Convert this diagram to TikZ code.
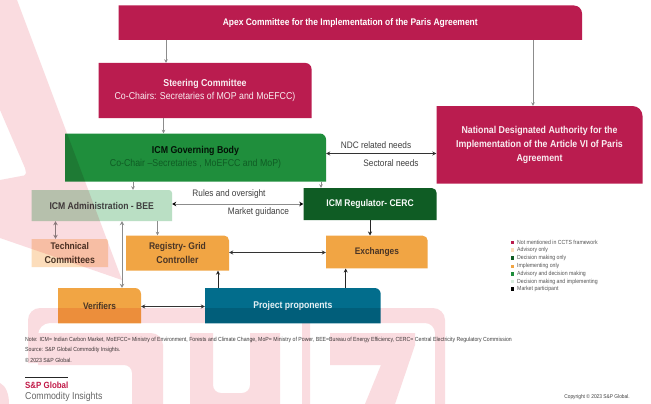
\documentclass[tikz,border=0pt]{standalone}
\usepackage{fontspec}
\setmainfont{Liberation Sans}
\newfontfamily\narrowfont[FakeStretch=0.88]{Liberation Sans}
\usetikzlibrary{arrows.meta}
\definecolor{crim}{HTML}{BA1C4F}
\definecolor{midgreen}{HTML}{1F8E3C}
\definecolor{darkgreen}{HTML}{0F5C24}
\definecolor{palegreen}{HTML}{BADFC4}
\definecolor{peach}{HTML}{FCDDBB}
\definecolor{orangeb}{HTML}{F1A544}
\definecolor{tealb}{HTML}{026D8C}
\definecolor{wm}{HTML}{FADCE0}
\definecolor{linegrey}{HTML}{8C8C8C}
\definecolor{brownt}{HTML}{4A3526}
\definecolor{legendt}{HTML}{555555}
\tikzset{
  boxlabel/.style={inner sep=0pt,align=center,font=\narrowfont\fontsize{10}{13.7}\selectfont},
  lbl/.style={inner sep=0pt,text=black!75,font=\narrowfont\fontsize{9.4}{11}\selectfont},
  legendlbl/.style={inner sep=0pt,anchor=west,text=legendt,font=\narrowfont\fontsize{5.9}{7}\selectfont},
  notelbl/.style={inner sep=0pt,anchor=west,text=black!75,font=\narrowfont\fontsize{5.9}{7}\selectfont},
  legendsq/.style={inner sep=0pt,minimum size=3.4pt},
  greyline/.style={draw=linegrey,line width=0.8pt,-{Stealth[length=3.5pt,width=3.5pt]}},
  greyboth/.style={draw=linegrey,line width=0.9pt,{Stealth[length=4pt,width=4.5pt]}-{Stealth[length=4pt,width=4.5pt]}},
  blackboth/.style={draw=black!80,line width=0.7pt,{Stealth[length=4pt,width=4pt]}-{Stealth[length=4pt,width=4pt]}},
  blackline/.style={draw=black!85,line width=0.9pt,-{Stealth[length=4pt,width=4pt]}},
  mixedboth/.style={draw=linegrey,line width=1pt,{Stealth[length=4pt,width=4.5pt,black]}-{Stealth[length=4pt,width=4.5pt,black]}},
}
% name, x0, y0, x1, y1, radius, colour, node options, text
\newcommand{\tbox}[9]{%
  \fill[#7] (#2,#5) -- (#2,#3) [rounded corners=#6pt] -- (#4,#3) [sharp corners] -- (#4,#5) -- cycle;
  \pgfmathsetmacro{\bw}{#4-#2}\pgfmathsetmacro{\bh}{#5-#3}
  \pgfmathsetmacro{\bx}{(#2+#4)/2}\pgfmathsetmacro{\by}{(#3+#5)/2}
  \node[boxlabel,minimum width=\bw pt,minimum height=\bh pt,#8] (#1) at (\bx,\by) {#9};
}
\begin{document}
\begin{tikzpicture}[x=1pt,y=-1pt]
\useasboundingbox (0,0) rectangle (651,404);
\fill[white] (0,0) rectangle (651,404);

\tbox{apex}{118.5}{5.5}{582}{40}{8}{crim}{text=white}{\bfseries\fontsize{9.6}{11}\selectfont Apex Committee for the Implementation of the Paris Agreement}
\tbox{steer}{98.5}{63}{311.5}{118}{6}{crim}{text=white!92!crim}{{\bfseries Steering Committee}\\Co-Chairs: Secretaries of MOP and MoEFCC)}
\tbox{gov}{65}{133.5}{326}{181.5}{6}{midgreen}{text=darkgreen}{{\bfseries\color{black!80!darkgreen} ICM Governing Body}\\Co-Chair –Secretaries , MoEFCC and MoP)}
\tbox{nda}{436.5}{106}{642.5}{183.5}{10}{crim}{text=white!92!crim}{\bfseries National Designated Authority for the\\\bfseries Implementation of the Article VI of Paris\\\bfseries Agreement}
\tbox{admin}{31.5}{190}{172}{221}{3}{palegreen}{text=black!75}{\bfseries\fontsize{9.8}{12}\selectfont ICM Administration - BEE}
\tbox{reg}{303.5}{188}{436.7}{220}{5}{darkgreen}{text=white!92!palegreen}{\bfseries\fontsize{9.7}{12}\selectfont ICM Regulator- CERC}
\tbox{tech}{31.5}{239}{108}{267}{2}{peach}{text=brownt}{\bfseries\fontsize{9.6}{14}\selectfont Technical\\\bfseries Committees}
\tbox{registry}{126}{235.5}{229}{270.5}{5}{orangeb}{text=brownt}{\bfseries\fontsize{9.7}{14}\selectfont Registry- Grid\\\bfseries Controller}
\tbox{exch}{326}{235.7}{427.7}{268.3}{5}{orangeb}{text=brownt}{\bfseries\fontsize{9.5}{12}\selectfont Exchanges}
\tbox{verif}{58}{288}{141}{323.3}{6}{orangeb}{text=brownt}{\bfseries\fontsize{9.5}{12}\selectfont Verifiers}
\tbox{proj}{205}{288}{380.7}{323.3}{6}{tealb}{text=white!90!tealb}{\bfseries\fontsize{9.8}{12}\selectfont Project proponents}

% connectors
\draw[greyline] (166,0 |- apex.south) -- (166,0 |- steer.north);
\draw[greyline] (163.5,0 |- steer.south) -- (163.5,0 |- gov.north);
\draw[greyline] (533,0 |- apex.south) -- (533,0 |- nda.north);
\draw[greyline] (133,0 |- gov.south) -- (133,0 |- admin.north);
\draw[greyline] (321,0 |- gov.south) -- (321,0 |- reg.north);
\draw[blackboth] (gov.east |- 0,153.5) -- (nda.west |- 0,153.5);
\draw[mixedboth] (admin.east |- 0,204) -- (reg.west |- 0,204);
\draw[greyboth] (55.5,0 |- admin.south) -- (55.5,0 |- tech.north);
\draw[greyboth] (122,0 |- admin.south) -- (122,0 |- verif.north);
\draw[greyline] (157.5,0 |- admin.south) -- (157.5,0 |- registry.north);
\draw[blackboth] (registry.east |- 0,252.5) -- (exch.west |- 0,252.5);
\draw[blackline] (218,0 |- proj.north) -- (218,0 |- registry.south);
\draw[blackline] (345.7,0 |- proj.north) -- (345.7,0 |- exch.south);
\draw[blackline] (370,0 |- reg.south) -- (370,0 |- exch.north);
\draw[blackboth] (verif.east |- 0,306.5) -- (proj.west |- 0,306.5);

% connector labels
\node[lbl] (l1) at (229,194) {Rules and oversight};
\node[lbl] (l2) at (258.5,212) {Market guidance};
\node[lbl] (l3) at (376,145) {NDC related needs};
\node[lbl] (l4) at (391,163) {Sectoral needs};

% legend
\foreach \yy/\cc/\tt [count=\i] in {242.3/crim/Not mentioned in CCTS framework,250/peach/Advisory only,258/darkgreen/Decision making only,266.3/orangeb/Implementing only,274/midgreen/Advisory and decision making,281.5/palegreen!60!white/Decision making and implementing,289/black/Market participant}{
  \node[legendsq,fill=\cc] (sq\i) at (512.7,\yy) {};
  \node[legendlbl] (lg\i) at (517,\yy) {\tt};
}

% notes
\node[notelbl] (n1) at (25,340) {Note: ICM= Indian Carbon Market, MoEFCC= Ministry of Environment, Forests and Climate Change, MoP= Ministry of Power, BEE=Bureau of Energy Efficiency, CERC= Central Electricity Regulatory Commission};
\node[notelbl] (n2) at (25,350) {Source: S\&P Global Commodity Insights.};
\node[notelbl] (n3) at (25,360) {© 2023 S\&P Global.};
\fill[black!85] (25,376.5) rectangle (68,377.6);
\node[inner sep=0pt,anchor=west,text=crim!90!red,font=\narrowfont\bfseries\fontsize{9}{10}\selectfont] (logo1) at (25,385) {S\&P Global};
\node[inner sep=0pt,anchor=west,text=black!60,font=\narrowfont\fontsize{10}{10}\selectfont] (logo2) at (25,397) {Commodity Insights};
\node[notelbl,anchor=east,font=\narrowfont\fontsize{5.5}{7}\selectfont] (copy) at (630,397) {Copyright © 2023 S\&P Global.};

% watermark
\fill[wm,blend mode=multiply]
  (0,0) -- (17,0) -- (122,280) -- (0,238) -- (0,180) -- (24,175.5) to[out=20,in=-70] (25,168) -- (0,110) -- cycle
  (28,363) -- (28,320) [rounded corners=12pt] -- (28,308) -- (445,308) [sharp corners] -- (445,404) -- (435,404) [rounded corners=10pt] -- (435,323) [sharp corners] -- (310,323) -- (310,404) -- (302,404) -- (302,323) [rounded corners=12pt] -- (38,323) [sharp corners] -- (38,363) -- cycle
  (38,333) [rounded corners=12pt] -- (163,333) [sharp corners] -- (163,404) -- (132,404) [rounded corners=8pt] -- (132,365) [sharp corners] -- (38,365) -- cycle
  (190,333) -- (213,333) [rounded corners=8pt] -- (213,393) -- (250,393) [sharp corners] -- (250,333) -- (280,333) -- (280,404) -- (190,404) -- cycle
  (330,333) -- (415,333) -- (415,345) -- (395,404) -- (365,404) -- (381,365) -- (330,365) -- cycle
  (0,383) .. controls (6,386) and (9,394) .. (9,404) -- (0,404) -- cycle;
\end{tikzpicture}
\end{document}
